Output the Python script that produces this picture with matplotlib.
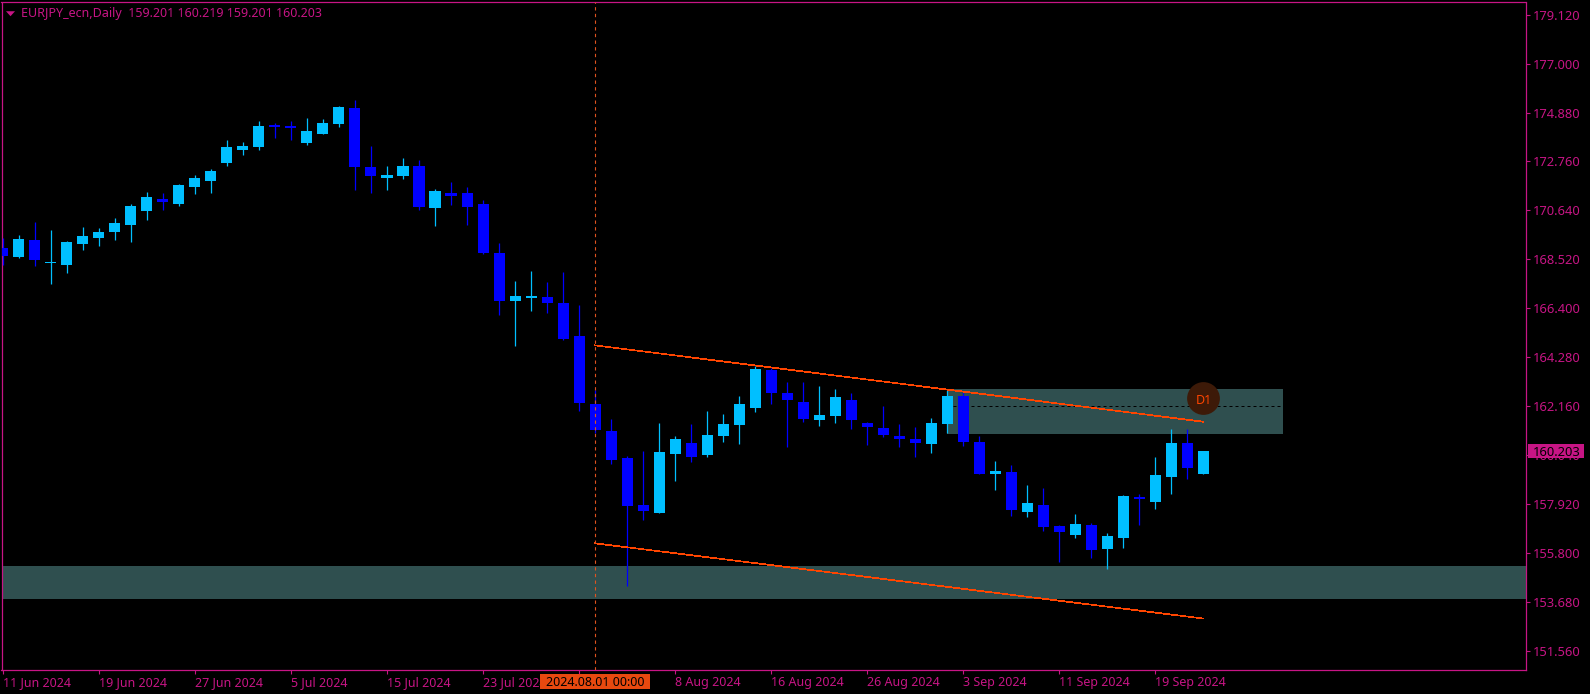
import numpy as np
import matplotlib
matplotlib.use('Agg')
import matplotlib.pyplot as plt
from matplotlib.patches import Rectangle

plt.rcParams['font.family'] = ['Noto Sans', 'DejaVu Sans']

# daily candles
opens = [169.01,168.62,169.36,168.36,168.27,169.18,169.44,169.70,170.01,170.61,
         171.13,170.92,171.65,171.91,172.69,173.26,173.39,174.34,174.30,173.56,
         173.95,174.38,175.08,172.52,172.04,172.13,172.56,170.74,171.39,171.39,
         170.92,168.79,166.71,166.84,166.89,166.63,165.19,162.25,161.08,159.91,
         157.87,157.52,160.08,160.56,160.04,160.86,161.34,162.07,163.72,162.72,
         162.33,161.55,161.73,162.42,161.42,161.21,160.86,160.73,160.51,161.38,
         162.59,160.60,159.21,159.30,157.56,157.87,156.96,156.57,157.00,155.96,
         156.44,158.22,158.00,159.08,160.56,159.201]
highs = [169.44,169.57,170.14,169.79,169.31,169.92,169.88,170.31,170.92,171.44,
         171.39,171.78,172.17,172.43,173.69,173.60,174.51,174.43,174.51,174.64,
         174.60,175.17,175.43,173.43,172.56,172.91,172.82,171.57,171.87,171.65,
         171.09,169.23,167.58,168.01,167.54,167.97,166.54,162.85,161.60,159.99,
         160.21,161.42,160.86,161.38,161.94,161.81,162.59,163.89,163.81,163.20,
         163.20,163.03,162.90,162.72,161.47,162.16,161.38,161.25,161.64,162.85,
         162.77,160.86,159.78,159.60,158.74,158.61,157.00,157.48,157.09,156.65,
         158.30,158.35,159.95,161.16,161.16,160.219]
lows = [168.27,168.58,168.23,167.45,167.93,168.92,169.10,169.36,169.27,170.22,
        170.66,170.83,171.35,171.39,172.56,173.04,173.26,173.78,173.69,173.47,
        173.95,174.25,171.52,171.39,171.52,172.00,170.66,169.96,170.87,170.01,
        168.75,166.10,164.76,166.28,166.19,165.02,161.94,160.99,159.65,154.36,
        157.22,157.52,158.91,159.73,159.95,160.60,160.51,161.90,162.25,160.38,
        161.47,161.29,161.42,161.16,160.47,160.82,160.38,159.95,160.12,160.99,
        160.43,159.21,158.52,157.39,157.35,156.74,155.40,156.44,155.57,155.09,
        156.00,157.00,157.69,158.35,159.00,159.201]
closes = [168.66,169.40,168.49,168.40,169.27,169.53,169.70,170.09,170.83,171.22,
          171.00,171.74,172.04,172.35,173.39,173.43,174.30,174.25,174.21,174.08,
          174.43,175.12,172.52,172.13,172.17,172.56,170.79,171.48,171.26,170.79,
          168.79,166.71,166.93,166.93,166.63,165.06,162.29,161.12,159.82,157.82,
          157.61,160.17,160.73,159.95,160.90,161.38,162.25,163.76,162.72,162.42,
          161.60,161.77,162.55,161.55,161.25,160.90,160.73,160.56,161.42,162.59,
          160.60,159.21,159.34,157.65,157.96,156.91,156.70,157.04,155.92,156.52,
          158.26,158.13,159.17,160.56,159.47,160.203]

date_ticks = [0,6,12,18,24,30,36,42,48,54,60,66,72]
date_labels = ['11 Jun 2024','19 Jun 2024','27 Jun 2024','5 Jul 2024','15 Jul 2024',
               '23 Jul 2024','','8 Aug 2024','16 Aug 2024','26 Aug 2024','3 Sep 2024',
               '11 Sep 2024','19 Sep 2024']
price_ticks = [179.12,177.0,174.88,172.76,170.64,168.52,166.4,164.28,162.16,160.04,
               157.92,155.8,153.68,151.56]

low_zone = [153.79,155.22]
high_zone = [160.95,162.90]
high_zone_x = [59,80]
zone_mid = 162.15
upper_line = [164.79,161.48]
lower_line = [156.21,152.95]
line_x = [37,75]
d1_pos = [75,162.49]
last_price = 160.203

UP = '#00bfff'
DOWN = '#0000ff'
AXC = '#c71585'
ORANGE = '#ff4500'
ZONE = '#2f4f4f'
W,H = 1590,694

def fx(x):
    return x/W
def fy(y):
    return 1-y/H

fig = plt.figure(figsize=(W/100,H/100),dpi=100,facecolor='black')
ax = fig.add_axes([fx(1.5),fy(670),(1525.5-1.5)/W,(670-2.5)/H],facecolor='black')
ax.set_xlim(-0.08,95.12)
ax.set_ylim(150.72,179.65)

# zones under the candles
ax.axhspan(low_zone[0],low_zone[1],color=ZONE,lw=0,zorder=1)
ax.add_patch(Rectangle((high_zone_x[0],high_zone[0]),high_zone_x[1]-high_zone_x[0],
                       high_zone[1]-high_zone[0],facecolor=ZONE,lw=0,zorder=1))
ax.plot(high_zone_x,[zone_mid,zone_mid],color='black',lw=0.72,ls=(0,(3,3)),zorder=2)

# candles
o = np.array(opens)
c = np.array(closes)
x = np.arange(len(o))
cols = [UP if c[i]>=o[i] else DOWN for i in x]
ax.vlines(x,lows,highs,colors=cols,lw=0.9,zorder=3)
ax.bar(x,np.abs(c-o),bottom=np.minimum(o,c),width=0.69,color=cols,lw=0,zorder=4,antialiased=False)

# trend lines and the crosshair
ax.plot(line_x,upper_line,color=ORANGE,lw=0.5,zorder=5,antialiased=False)
ax.plot(line_x,lower_line,color=ORANGE,lw=0.5,zorder=5,antialiased=False)
ax.axvline(line_x[0],color='#e0531f',lw=0.8,ls=(0,(3,3)),zorder=5)

ax.plot(d1_pos[0],d1_pos[1],'o',ms=23.6,color='#3d1a08',mew=0,zorder=6)
ax.text(d1_pos[0],d1_pos[1]-0.08,'D1',color=ORANGE,fontsize=9,fontweight='bold',
        ha='center',va='center',zorder=7)

for s in ax.spines.values():
    s.set_color(AXC)
    s.set_linewidth(0.9)

ax.yaxis.tick_right()
ax.set_yticks(price_ticks)
ax.set_yticklabels(['%.3f'%p for p in price_ticks])
ax.set_xticks(date_ticks)
ax.set_xticklabels(date_labels,ha='left')
ax.tick_params(axis='y',colors=AXC,length=3,width=0.8,pad=2.5,labelsize=9.3)
ax.tick_params(axis='x',colors=AXC,length=3,width=0.8,pad=1,labelsize=9)

# top left header
ax.plot([0.0055],[0.9845],marker=[(-1,0.5),(1,0.5),(0,-0.6)],transform=ax.transAxes,
        color=AXC,ms=6.5,mew=0,zorder=8,clip_on=False)
fig.text(fx(21),fy(13),'EURJPY_ecn,Daily  159.201 160.219 159.201 160.203',color=AXC,
         fontsize=9,ha='left',va='center')

# price and time flags
fig.add_artist(Rectangle((fx(1528),fy(458)),56/W,14/H,transform=fig.transFigure,facecolor=AXC,lw=0))
fig.text(fx(1533),fy(452),'%.3f'%last_price,color='black',fontsize=9.3,ha='left',va='center')
fig.add_artist(Rectangle((fx(540),fy(689)),110/W,15/H,transform=fig.transFigure,facecolor='#e8490f',lw=0))
fig.text(fx(595),fy(682),'2024.08.01 00:00',color='black',fontsize=9,ha='center',va='center')

fig.savefig('out.png',dpi=100,facecolor='black')
